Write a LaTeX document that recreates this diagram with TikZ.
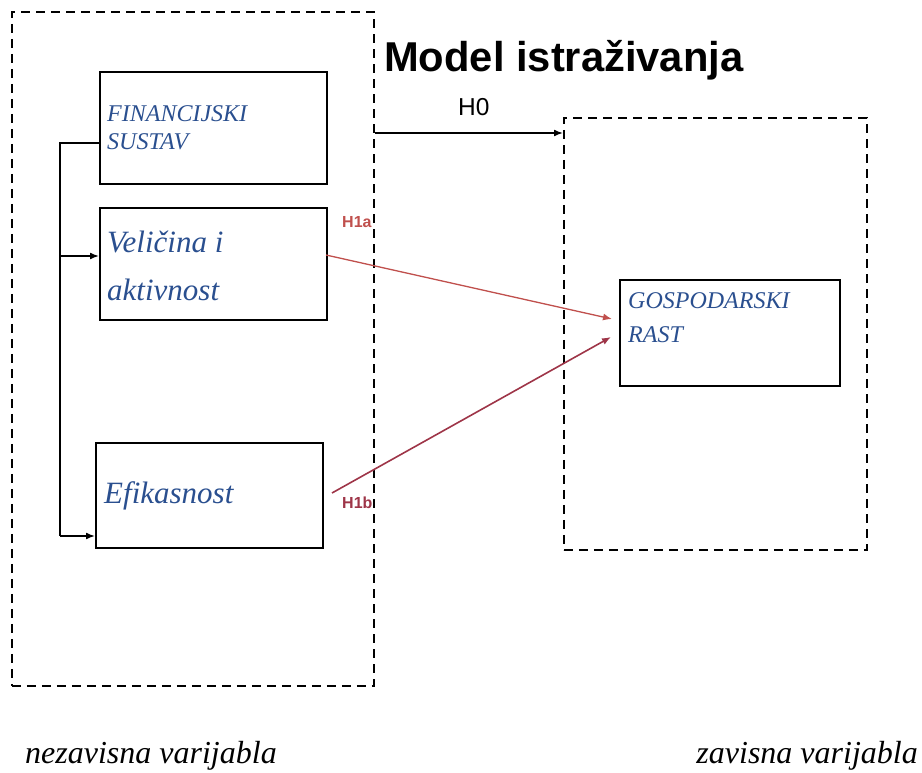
\documentclass[tikz,border=0pt]{standalone}
\usepackage{fontspec}
\setmainfont{Liberation Serif}
\newfontfamily\arialf{Liberation Sans}
\usetikzlibrary{arrows.meta}
\definecolor{boxblue}{HTML}{2A4F8F}
\definecolor{redA}{HTML}{C0504D}
\definecolor{redB}{HTML}{9E3548}
\tikzset{
  dashbox/.style={draw=black, line width=1.8pt, dash pattern=on 9pt off 6pt, anchor=north west, inner sep=0pt},
  solidbox/.style={draw=black, line width=2pt, anchor=north west, inner sep=0pt},
  capstext/.style={anchor=base west, inner sep=0pt, text=boxblue, font=\fontsize{24}{28}\selectfont\itshape},
  bigtext/.style={anchor=base west, inner sep=0pt, text=boxblue, font=\fontsize{31}{36}\selectfont\itshape},
  bottomtext/.style={inner sep=0pt, text=black, font=\fontsize{32}{38}\selectfont\itshape},
  arr/.style={line width=1.5pt, -{Latex[length=9pt,width=7pt]}},
  hlabel/.style={anchor=base west, inner sep=0pt},
}
\begin{document}
\begin{tikzpicture}[x=1pt,y=-1pt]
\useasboundingbox (0,0) rectangle (922,773);
% dashed groups
\node[dashbox, minimum width=362, minimum height=674] (ldash) at (11,11) {};
\node[dashbox, minimum width=303, minimum height=432] (rdash) at (563,117) {};
% solid boxes
\node[solidbox, minimum width=227, minimum height=112] (fin) at (99,71) {};
\node[solidbox, minimum width=227, minimum height=112] (vel) at (99,207) {};
\node[solidbox, minimum width=227, minimum height=105] (efi) at (95,442) {};
\node[solidbox, minimum width=220, minimum height=106] (gosp) at (619,279) {};
% box texts
\node[capstext] (fin1) at (107,122) {FINANCIJSKI};
\node[capstext] (fin2) at (107,150) {SUSTAV};
\node[bigtext] (vel1) at (107,253) {Veličina i};
\node[bigtext] (vel2) at (107,300) {aktivnost};
\node[bigtext] (efi1) at (104,503) {Efikasnost};
\node[capstext] (gosp1) at (628,308) {GOSPODARSKI};
\node[capstext] (gosp2) at (628,342) {RAST};
% title
\node[hlabel, font=\arialf\bfseries\fontsize{41.7}{48}\selectfont] (title) at (384,72) {Model istraživanja};
% bracket
\coordinate (btop) at (60,143);
\coordinate (bmid) at (60,256);
\coordinate (bbot) at (60,536);
\draw[line width=1.6pt] (fin.west |- btop) -- (btop) -- (bbot);
\draw[arr] (bmid) -- (vel.west |- bmid);
\draw[arr] (bbot) -- (efi.west |- bbot);
% H0
\coordinate (h0y) at (0,133);
\draw[arr] (ldash.east |- h0y) -- (rdash.west |- h0y);
\node[hlabel, font=\arialf\fontsize{24.5}{28}\selectfont] (h0) at (458,116) {H0};
% H1a, H1b
\coordinate (h1as) at (326,255);
\coordinate (h1ae) at (612,319);
\coordinate (h1bs) at (332,493);
\coordinate (h1be) at (611,337);
\draw[arr, draw=redA, fill=redA, line width=1.3pt] (h1as) -- (h1ae);
\draw[arr, draw=redB, fill=redB, line width=1.6pt] (h1bs) -- (h1be);
\node[hlabel, text=redA, font=\arialf\bfseries\fontsize{16}{19}\selectfont] (h1a) at (342,228) {H1a};
\node[hlabel, text=redB, font=\arialf\bfseries\fontsize{16}{19}\selectfont] (h1b) at (342,508) {H1b};
% bottom labels
\node[bottomtext, anchor=base west] (nez) at (25,763) {nezavisna varijabla};
\node[bottomtext, anchor=base east] (zav) at (918,763) {zavisna varijabla};
\end{tikzpicture}
\end{document}
